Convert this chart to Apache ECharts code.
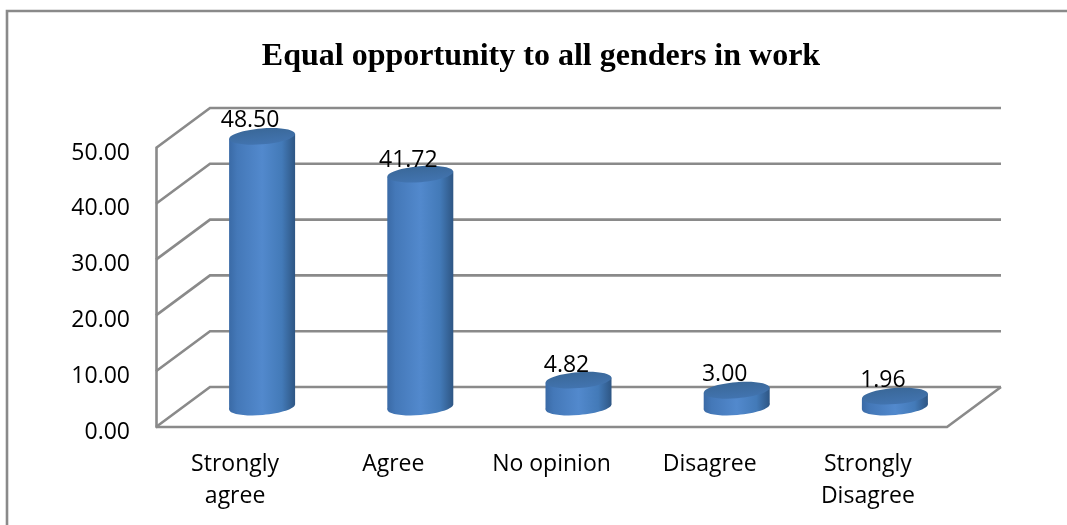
<!DOCTYPE html>
<html><head><meta charset="utf-8">
<style>html,body{margin:0;padding:0;background:#fff}#c{width:1067px;height:525px}</style>
<script src="https://cdn.jsdelivr.net/npm/echarts@6/dist/echarts.min.js"></script>
</head><body><div id="c"></div>
<script>
const titleText = 'Equal opportunity to all genders in work';
const categories = ['Strongly\nagree', 'Agree', 'No opinion', 'Disagree', 'Strongly\nDisagree'];
const values = [48.50, 41.72, 4.82, 3.00, 1.96];
const yTicks = [0, 10, 20, 30, 40, 50];

const depthX = 54, depthY = -40, halfW = 33, ry = 8, tilt = 0.08, tiltDy = 2.6;
const labelShiftX = -12;
const labelGap = [16, 14, 15, 16, 16];
const GRID = '#8a8a8a', FONT = '"Open Sans", sans-serif';

const chart = echarts.init(document.getElementById('c'));
const bodyFill = {type:'linear',x:0,y:0,x2:1,y2:0,colorStops:[
  {offset:0,color:'#3a6aa6'},{offset:0.12,color:'#4478b8'},{offset:0.5,color:'#5289cd'},
  {offset:0.8,color:'#437ab8'},{offset:1,color:'#2e5684'}]};
const capFill = {type:'linear',x:0,y:0,x2:0,y2:1,colorStops:[
  {offset:0,color:'#3a6899'},{offset:1,color:'#4274b0'}]};

function renderWall(params, api) {
  const cs = params.coordSys;
  const p = api.coord([0, api.value(1)]);
  const y = p[1], l = cs.x, r = cs.x + cs.width;
  const line = {stroke: GRID, lineWidth: 2.6, fill: null};
  const children = [{type:'polyline', shape:{points:[[l,y],[l+depthX,y+depthY],[r+depthX,y+depthY]]}, style:line}];
  if (api.value(1) === 0) children.push({type:'polyline', shape:{points:[[l,y],[r,y],[r+depthX,y+depthY]]}, style:line});
  return {type:'group', children};
}
function renderBar(params, api) {
  const i = api.value(0), v = api.value(1);
  const top = api.coord([i, v]), base = api.coord([i, 0]);
  const cx = top[0] + depthX / 2, yt = top[1] + depthY / 2, yb = base[1] + depthY / 2;
  return {type:'group', children:[
    {type:'ellipse', shape:{cx:0,cy:0,rx:halfW,ry:ry}, x:cx, y:yb, rotation:tilt, style:{fill:bodyFill}},
    {type:'polygon', shape:{points:[[cx-halfW,yt+tiltDy],[cx+halfW,yt-tiltDy],[cx+halfW,yb-tiltDy],[cx-halfW,yb+tiltDy]]}, style:{fill:bodyFill}},
    {type:'ellipse', shape:{cx:0,cy:0,rx:halfW,ry:ry}, x:cx, y:yt, rotation:tilt, style:{fill:capFill}},
    {type:'text', x:cx+labelShiftX, y:yt-labelGap[i], style:{text:v.toFixed(2), fill:'#000', font:'23px '+FONT, align:'center', verticalAlign:'middle'}}
  ]};
}
chart.setOption({
  animation:false,
  backgroundColor:'#fff',
  title:{text:titleText, left:536, top:36, textAlign:'center',
    textStyle:{fontFamily:'"Liberation Serif", serif', fontWeight:'bold', fontSize:32, color:'#000'}},
  graphic:[{type:'rect', shape:{x:7,y:11,width:1080,height:540}, style:{fill:null,stroke:GRID,lineWidth:2.6}, z:-1}],
  grid:{left:156, top:148, width:791, height:279},
  xAxis:{type:'category', data:categories, axisLine:{show:false}, axisTick:{show:false},
    axisLabel:{color:'#000', fontFamily:FONT, fontSize:23, lineHeight:32, margin:21, interval:0}},
  yAxis:{type:'value', min:0, max:50, interval:10, splitLine:{show:false},
    axisLine:{show:true, lineStyle:{color:GRID,width:2.6}}, axisTick:{show:false},
    axisLabel:{color:'#000', fontFamily:FONT, fontSize:23, margin:26, verticalAlign:'top', lineHeight:10, formatter:v=>v.toFixed(2)}},
  series:[
    {type:'custom', renderItem:renderWall, data:yTicks.map(t=>[0,t]), encode:{x:0,y:1}, silent:true},
    {type:'custom', renderItem:renderBar, data:values.map((v,i)=>[i,v]), encode:{x:0,y:1}, silent:true}
  ]
});
</script></body></html>
